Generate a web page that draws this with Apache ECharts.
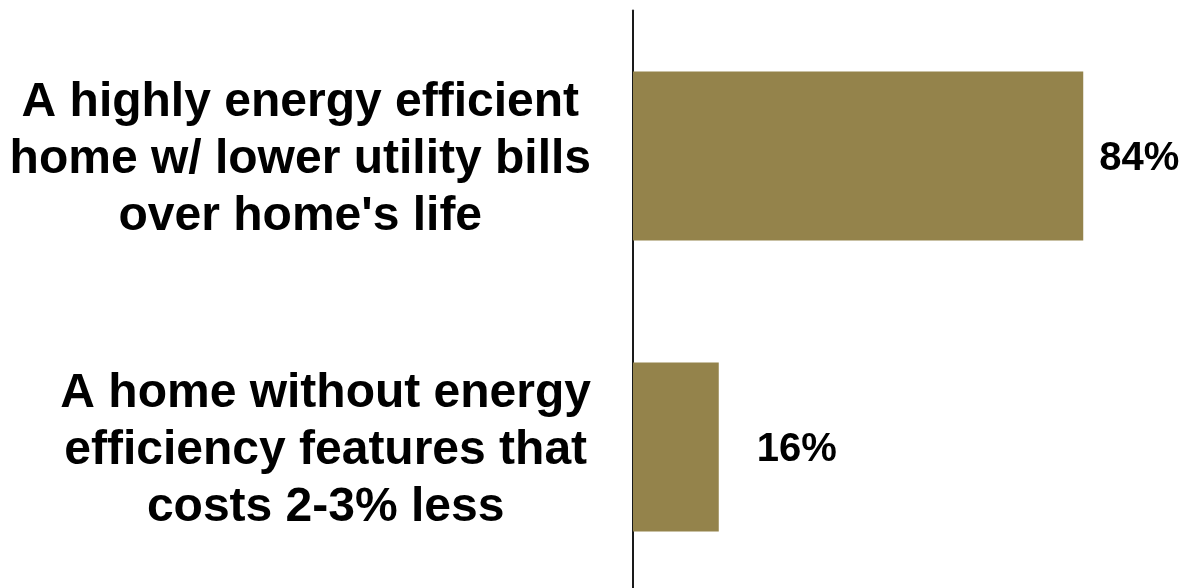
<!DOCTYPE html>
<html>
<head>
<meta charset="utf-8">
<script src="https://cdn.jsdelivr.net/npm/echarts@6/dist/echarts.min.js"></script>
<style>
html,body{margin:0;padding:0;background:#fff;}
#c{width:1188px;height:588px;}
</style>
</head>
<body>
<div id="c"></div>
<script>
const categories = [
  "A highly energy efficient\nhome w/ lower utility bills\nover home's life",
  "A home without energy\nefficiency features that\ncosts 2-3% less"
];
const values = [84, 16];
const labelGaps = [16, 38];

const chart = echarts.init(document.getElementById('c'), null, {renderer: 'canvas'});
chart.setOption({
  animation: false,
  backgroundColor: '#ffffff',
  grid: {left: 633, right: 19, top: 10.5, height: 582, containLabel: false, outerBoundsMode: 'none'},
  xAxis: {
    type: 'value', min: 0, max: 100, show: false
  },
  yAxis: {
    type: 'category', data: categories, inverse: true,
    axisLine: {show: true, lineStyle: {color: '#1a1a1a', width: 2}},
    axisTick: {show: false},
    splitLine: {show: false},
    axisLabel: {
      margin: 42,
      align: 'right',
      padding: [7, 0, 0, 0],
      formatter: function (v) {
        return v.split('\n').map(function (l) { return '{a|' + l + '}'; }).join('\n');
      },
      rich: {
        a: {
          align: 'center',
          fontFamily: 'Liberation Sans, Arial, sans-serif',
          fontWeight: 'bold',
          fontSize: 48,
          lineHeight: 57,
          color: '#000'
        }
      }
    }
  },
  series: [{
    type: 'bar',
    data: values.map(function (v, i) { return {value: v, label: {distance: labelGaps[i]}}; }),
    barCategoryGap: '42%',
    itemStyle: {color: '#94834b'},
    label: {
      show: true,
      position: 'right',
      offset: [0, 3],
      formatter: '{c}%',
      fontFamily: 'Liberation Sans, Arial, sans-serif',
      fontWeight: 'bold',
      fontSize: 40,
      color: '#000'
    }
  }]
});
</script>
</body>
</html>
